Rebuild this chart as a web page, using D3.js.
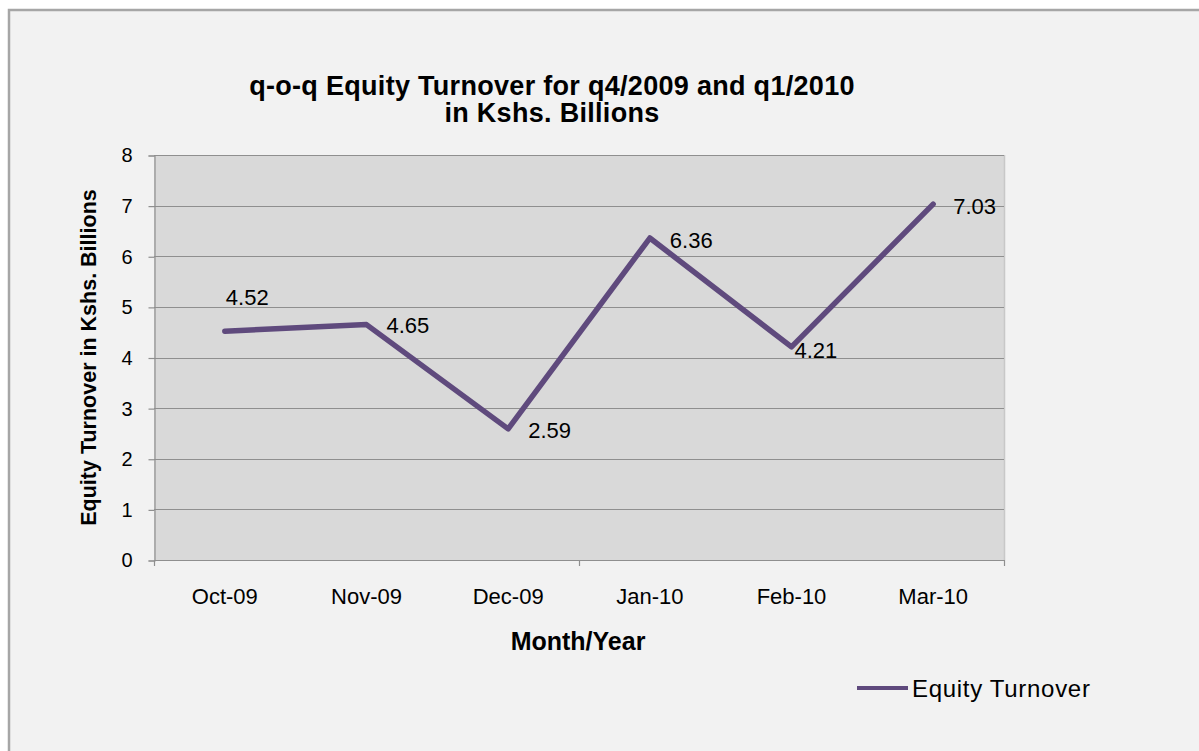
<!DOCTYPE html>
<html>
<head>
<meta charset="utf-8">
<script src="https://cdn.jsdelivr.net/npm/d3@7"></script>
<style>
    html, body { margin: 0; padding: 0; background: #ffffff; }
    svg { display: block; font-family: "Liberation Sans", Arial, sans-serif; }
</style>
</head>
<body>
<svg id="chart" width="1199" height="751"></svg>
<script>
const WIDTH = 1199;
const HEIGHT = 751;

const months = ["Oct-09", "Nov-09", "Dec-09", "Jan-10", "Feb-10", "Mar-10"];
const turnover = [4.52, 4.65, 2.59, 6.36, 4.21, 7.03];
const yTicks = [0, 1, 2, 3, 4, 5, 6, 7, 8];
const titleLines = ["q-o-q Equity Turnover for q4/2009 and q1/2010", "in Kshs. Billions"];
const seriesName = "Equity Turnover";

// plot area in pixels
const plot = { left: 154, top: 155, right: 1004, bottom: 560 };
const LINE_COLOR = "#5f4a7d";
const FONT = "Liberation Sans, Arial, sans-serif";

const svg = d3.select("#chart");

// outer chart frame
svg.append("rect")
    .attr("x", 9).attr("y", 10)
    .attr("width", WIDTH + 20).attr("height", HEIGHT + 20)
    .attr("fill", "#f2f2f2")
    .attr("stroke", "#a6a6a6")
    .attr("stroke-width", 2.5);

const x = d3.scaleBand()
    .domain(months)
    .range([plot.left, plot.right]);

const y = d3.scaleLinear()
    .domain([0, 8])
    .range([plot.bottom, plot.top]);

// plot background
svg.append("rect")
    .attr("x", plot.left).attr("y", plot.top)
    .attr("width", plot.right - plot.left)
    .attr("height", plot.bottom - plot.top)
    .attr("fill", "#d9d9d9");

svg.append("line")
    .attr("x1", plot.right + 0.5).attr("x2", plot.right + 0.5)
    .attr("y1", plot.top).attr("y2", plot.bottom)
    .attr("stroke", "#c8c8c8").attr("stroke-width", 1.5);

// gridlines
svg.append("g")
    .selectAll("line")
    .data(yTicks.filter(t => t > 0))
    .join("line")
    .attr("x1", plot.left).attr("x2", plot.right)
    .attr("y1", d => Math.round(y(d)) + 0.5)
    .attr("y2", d => Math.round(y(d)) + 0.5)
    .attr("stroke", "#8f8f8f")
    .attr("stroke-width", 1.2);

// y axis
const yAxis = svg.append("g")
    .attr("transform", `translate(${plot.left + 0.5},0.5)`)
    .call(d3.axisLeft(y).tickValues(yTicks).tickSize(6).tickPadding(16));
yAxis.select(".domain").attr("stroke", "#8f8f8f").attr("stroke-width", 1.2);
yAxis.selectAll(".tick line").attr("stroke", "#8f8f8f").attr("stroke-width", 1.2);
yAxis.selectAll(".tick text")
    .attr("fill", "#000")
    .attr("font-size", 20)
    .attr("font-family", FONT);

// x axis: labels centred in bands, tick marks every 3 categories
const xAxis = svg.append("g")
    .attr("transform", `translate(0,${plot.bottom})`)
    .call(d3.axisBottom(x).tickSize(0).tickPadding(28));
xAxis.select(".domain").remove();
xAxis.selectAll(".tick text")
    .attr("fill", "#000")
    .attr("font-size", 22)
    .attr("font-family", FONT);

svg.append("line")
    .attr("x1", plot.left).attr("x2", plot.right)
    .attr("y1", plot.bottom + 0.5).attr("y2", plot.bottom + 0.5)
    .attr("stroke", "#8f8f8f").attr("stroke-width", 1.2);

const boundaries = [0, 3, 6].map(i => i < months.length ? x(months[i]) : plot.right);
svg.append("g")
    .selectAll("line")
    .data(boundaries)
    .join("line")
    .attr("x1", d => Math.round(d) + 0.5).attr("x2", d => Math.round(d) + 0.5)
    .attr("y1", plot.bottom).attr("y2", plot.bottom + 6)
    .attr("stroke", "#8f8f8f").attr("stroke-width", 1.2);

// series line
const line = d3.line()
    .x((d, i) => x(months[i]) + x.bandwidth() / 2)
    .y(d => y(d));

svg.append("path")
    .datum(turnover)
    .attr("d", line)
    .attr("fill", "none")
    .attr("stroke", LINE_COLOR)
    .attr("stroke-width", 5.5)
    .attr("stroke-linejoin", "round")
    .attr("stroke-linecap", "round");

// data labels (first one sits above its point, the rest to the right)
const labelOffsets = [[1, -26], [20, 8], [20, 9], [20, 10], [3, 11], [20, 10]];
svg.append("g")
    .selectAll("text")
    .data(turnover)
    .join("text")
    .attr("x", (d, i) => x(months[i]) + x.bandwidth() / 2 + labelOffsets[i][0])
    .attr("y", (d, i) => y(d) + labelOffsets[i][1])
    .attr("font-size", 22)
    .attr("fill", "#000")
    .text(d => d.toFixed(2));

// title
svg.append("text")
    .attr("x", 552)
    .attr("y", 95)
    .attr("text-anchor", "middle")
    .attr("font-size", 27)
    .attr("font-weight", "bold")
    .attr("letter-spacing", 0.3)
    .selectAll("tspan")
    .data(titleLines)
    .join("tspan")
    .attr("x", 552)
    .attr("dy", (d, i) => i === 0 ? 0 : 27)
    .text(d => d);

// axis titles
svg.append("text")
    .attr("transform", `translate(96,${(plot.top + plot.bottom) / 2}) rotate(-90)`)
    .attr("text-anchor", "middle")
    .attr("font-size", 21.5)
    .attr("font-weight", "bold")
    .text("Equity Turnover in Kshs.  Billions");

svg.append("text")
    .attr("x", 578)
    .attr("y", 650)
    .attr("text-anchor", "middle")
    .attr("font-size", 25)
    .attr("font-weight", "bold")
    .text("Month/Year");

// legend
const legend = svg.append("g").attr("transform", "translate(857,688)");
legend.append("line")
    .attr("x1", 0).attr("x2", 51)
    .attr("y1", 0).attr("y2", 0)
    .attr("stroke", LINE_COLOR)
    .attr("stroke-width", 4);
legend.append("text")
    .attr("x", 55)
    .attr("y", 9)
    .attr("font-size", 24)
    .attr("letter-spacing", 0.7)
    .attr("fill", "#000")
    .text(seriesName);
</script>
</body>
</html>
